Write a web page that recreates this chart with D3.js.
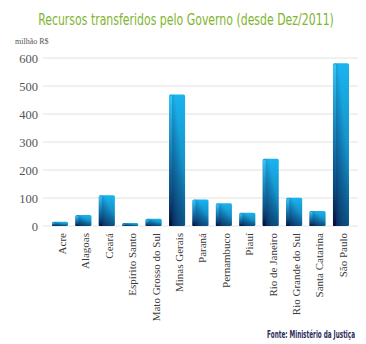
<!DOCTYPE html>
<html><head><meta charset="utf-8">
<script src="https://cdn.jsdelivr.net/npm/d3@7"></script>
<style>body{margin:0;background:#fff}</style>
</head><body>
<script>
const categories = ["Acre","Alagoas","Ceará","Espírito Santo","Mato Grosso do Sul","Minas Gerais","Paraná","Pernambuco","Piauí","Rio de Janeiro","Rio Grande do Sul","Santa Catarina","São Paulo"];
const values = [15, 39, 110, 11, 26, 470, 95, 81, 47, 240, 101, 54, 581];
const yTicks = [0,100,200,300,400,500,600];
const title = "Recursos transferidos pelo Governo (desde Dez/2011)";
const unitLabel = "milhão R$";
const source = "Fonte: Ministério da Justiça";

const W = 366, H = 344;
const svg = d3.select("body").append("svg").attr("width", W).attr("height", H);
const defs = svg.append("defs");
const g1 = defs.append("linearGradient").attr("id","barV").attr("x1",0).attr("y1",0).attr("x2",0).attr("y2",1);
g1.append("stop").attr("offset","0%").attr("stop-color","#1ab4ee");
g1.append("stop").attr("offset","55%").attr("stop-color","#1490c8");
g1.append("stop").attr("offset","100%").attr("stop-color","#0c5f8f");
const g2 = defs.append("linearGradient").attr("id","barD").attr("x1",0).attr("y1",1).attr("x2",0.7).attr("y2",0.35);
g2.append("stop").attr("offset","0%").attr("stop-color","#07103f").attr("stop-opacity",0.95);
g2.append("stop").attr("offset","45%").attr("stop-color","#0a2a60").attr("stop-opacity",0.5);
g2.append("stop").attr("offset","100%").attr("stop-color","#0a2a60").attr("stop-opacity",0);
const g3 = defs.append("linearGradient").attr("id","barL").attr("x1",0).attr("y1",0).attr("x2",0).attr("y2",1);
g3.append("stop").attr("offset","0%").attr("stop-color","#3fd0ff").attr("stop-opacity",0.8);
g3.append("stop").attr("offset","60%").attr("stop-color","#1a8fc8").attr("stop-opacity",0.3);
g3.append("stop").attr("offset","100%").attr("stop-color","#020a30").attr("stop-opacity",0.8);

const x = d3.scaleBand().domain(categories).range([40.3, 360.7]).paddingInner(0.316).paddingOuter(0.5);
const y = d3.scaleLinear().domain([0,600]).range([226, 58]);

// horizontally squeeze a text (in a group) to a target width
function squeeze(g, txt, target, anchorX, baseY) {
  const w = txt.node().getComputedTextLength();
  const sx = w > 0 ? Math.min(1, target / w) : 1;
  g.attr("transform", `translate(${anchorX},${baseY}) scale(${sx},1)`);
}

// title
const tg = svg.append("g");
const t = tg.append("text").attr("x", 0).attr("y", 0).attr("text-anchor","middle")
  .attr("font-family","'DejaVu Sans Condensed','Liberation Sans Narrow',Roboto,sans-serif")
  .attr("font-size",15).attr("fill","#80b52f").text(title);
squeeze(tg, t, 296, 186, 25);

svg.append("text").attr("x",15).attr("y",44).attr("font-family","'Liberation Serif',serif")
  .attr("font-size",8).attr("fill","#555").text(unitLabel);

// grid
svg.append("g").selectAll("line").data(yTicks).join("line")
  .attr("x1",43).attr("x2",358).attr("y1",d=>y(d)).attr("y2",d=>y(d))
  .attr("stroke","#e2e2e2").attr("stroke-width",1);

// y axis labels
const yAxis = d3.axisLeft(y).tickValues(yTicks).tickSize(0).tickPadding(0);
const ya = svg.append("g").attr("transform","translate(38,0)").call(yAxis);
ya.select(".domain").remove();
ya.selectAll("text").attr("font-family","'Liberation Serif',serif").attr("font-size",12.5).attr("fill","#555");

// bars
const bars = svg.append("g").selectAll("g").data(categories).join("g");
bars.append("rect").attr("x",d=>x(d)).attr("y",(d,i)=>y(values[i]))
  .attr("width",x.bandwidth()).attr("height",(d,i)=>y(0)-y(values[i]))
  .attr("rx",1.5).attr("fill","url(#barV)");
bars.append("rect").attr("x",d=>x(d)).attr("y",(d,i)=>y(values[i]))
  .attr("width",x.bandwidth()).attr("height",(d,i)=>y(0)-y(values[i]))
  .attr("rx",1.5).attr("fill","url(#barD)");
bars.append("rect").attr("x",d=>x(d)).attr("y",(d,i)=>y(values[i])+1)
  .attr("width",3).attr("height",(d,i)=>Math.max(0,y(0)-y(values[i])-1))
  .attr("fill","url(#barL)");

// x labels
svg.append("g").selectAll("text").data(categories).join("text")
  .attr("transform",d=>`translate(${x(d)+x.bandwidth()/2+2},233) rotate(-90)`)
  .attr("text-anchor","end").attr("dy","0.35em")
  .attr("font-family","'Liberation Serif',serif").attr("font-size",11).attr("fill","#3a3a3a")
  .text(d=>d);

// source
const sg = svg.append("g");
const s = sg.append("text").attr("x",0).attr("y",0).attr("text-anchor","end")
  .attr("font-family","'DejaVu Sans Condensed','Liberation Sans Narrow',Roboto,sans-serif")
  .attr("font-size",10.5).attr("font-weight","bold").attr("fill","#2e2c5c").text(source);
squeeze(sg, s, 88, 355, 338);
</script>
</body></html>
